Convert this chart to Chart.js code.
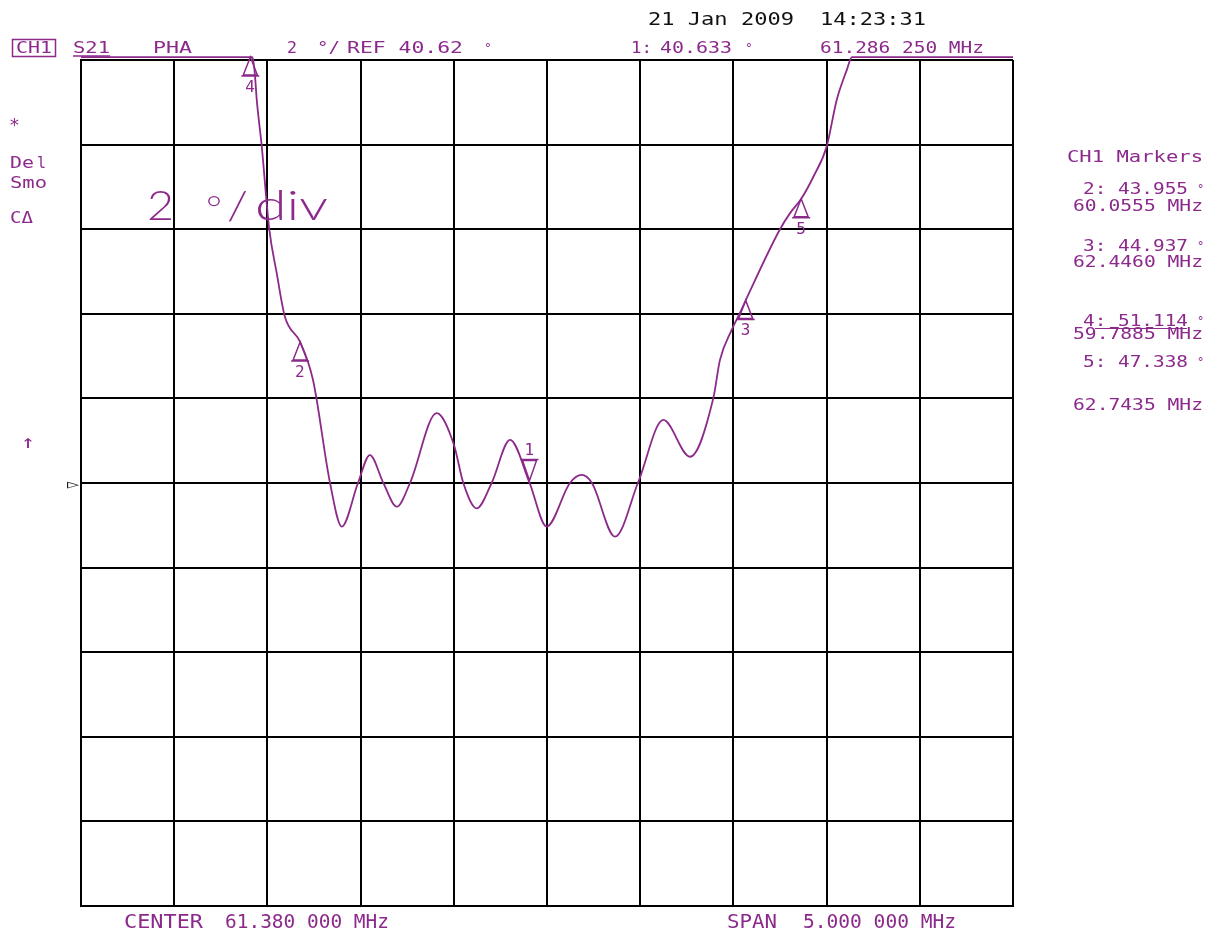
<!DOCTYPE html>
<html>
<head>
<meta charset="utf-8">
<script src="https://cdn.jsdelivr.net/npm/chart.js@4"></script>
<style>
  body { margin: 0; background: #fff; }
  canvas { display: block; }
</style>
</head>
<body>
<canvas id="vna" width="1224" height="940"></canvas>
<script>
// instrument settings (S21 phase, 2 deg/div)
const centerMHz = 61.38;
const spanMHz = 5.0;
const refDeg = 40.62;
const degPerDiv = 2;

// trace (MHz, degrees); 50.69 = clipped at top of screen
const traceMHz = [58.88, 59.80, 59.813, 59.823, 59.849, 59.890, 59.930, 59.974, 60.056, 60.125, 60.216,
  60.279, 60.366, 60.430, 60.502, 60.574, 60.645, 60.788, 60.881, 60.931, 61.003, 61.083, 61.182,
  61.286, 61.378, 61.503, 61.566, 61.621, 61.745, 61.870, 62.004, 62.147, 62.272, 62.308, 62.371,
  62.415, 62.446, 62.630, 62.684, 62.744, 62.809, 62.880, 62.934, 62.988, 63.016, 63.88];
const traceDeg = [50.69, 50.69, 50.27, 49.67, 48.61, 46.62, 45.58, 44.55, 43.95, 43.05, 40.62,
  39.59, 40.62, 41.28, 40.62, 40.06, 40.62, 42.27, 41.52, 40.62, 40.02, 40.62, 41.64,
  40.63, 39.59, 40.62, 40.81, 40.62, 39.35, 40.65, 42.11, 41.24, 42.62, 43.53, 44.24,
  44.64, 44.94, 46.62, 47.00, 47.34, 47.86, 48.57, 49.67, 50.38, 50.69, 50.69];

// markers
const markerNo = [1, 2, 3, 4, 5];
const markerMHz = [61.28625, 60.0555, 62.4460, 59.7885, 62.7435];
const markerDeg = [40.633, 43.955, 44.937, 51.114, 47.338];

const PURPLE = '#8c2a8c';
const MONO = "'DejaVu Sans Mono'";

// draw a string squeezed/stretched to a given width
function txt(ctx, s, x, y, w, size, color, font, weight) {
  ctx.save();
  ctx.font = (weight || 'normal') + ' ' + size + 'px ' + (font || MONO);
  ctx.fillStyle = color || PURPLE;
  ctx.textBaseline = 'alphabetic';
  const nat = ctx.measureText(s).width;
  ctx.translate(x, y);
  if (w) ctx.scale(w / nat, 1);
  ctx.fillText(s, 0, 0);
  ctx.restore();
}

const screenText = {
  id: 'screenText',
  afterDraw(chart) {
    const ctx = chart.ctx;
    const xs = chart.scales.x, ys = chart.scales.y;

    // header
    txt(ctx, '21 Jan 2009', 648, 25, 146, 17, '#111');
    txt(ctx, '14:23:31', 820, 25, 106, 17, '#111');
    ctx.save();
    ctx.strokeStyle = PURPLE; ctx.lineWidth = 1.5;
    ctx.strokeRect(12.5, 39.5, 43, 17);
    ctx.beginPath(); ctx.moveTo(73, 56); ctx.lineTo(110, 56); ctx.stroke();
    ctx.restore();
    txt(ctx, 'CH1', 16, 53, 36, 16);
    txt(ctx, 'S21', 73, 53, 37, 16);
    txt(ctx, 'PHA', 153, 53, 39, 16);
    txt(ctx, '2', 287, 53, 10, 16);
    txt(ctx, '°/', 317, 53, 23, 16);
    txt(ctx, 'REF 40.62', 347, 53, 116, 16);
    txt(ctx, '°', 484, 52, 0, 13);
    txt(ctx, '1:', 631, 53, 21, 16);
    txt(ctx, '40.633', 660, 53, 72, 16);
    txt(ctx, '°', 745, 52, 0, 13);
    txt(ctx, '61.286 250 MHz', 820, 53, 164, 16);

    // left annotations
    txt(ctx, '*', 9, 131, 0, 18);
    txt(ctx, 'De', 10, 168, 24, 16);
    txt(ctx, 'l', 37, 168, 9, 16);
    txt(ctx, 'Smo', 10, 188, 37, 16);
    txt(ctx, 'CΔ', 10, 223, 23, 16);
    txt(ctx, '↑', 21, 448, 14, 18);
    txt(ctx, '▷', 67, 488, 12, 11, '#111');

    // big scale label
    txt(ctx, '2', 147, 220, 27, 42, PURPLE, 'Lato', 300);
    txt(ctx, '°', 206, 220, 16, 34, PURPLE, 'Lato', 300);
    txt(ctx, '/', 227, 220, 21, 40, PURPLE, 'Lato', 300);
    txt(ctx, 'div', 255, 220, 73, 42, PURPLE, 'Lato', 300);

    // marker list on the right
    txt(ctx, 'CH1 Markers', 1067, 162, 136, 16);
    const rows = [[1, 194, 211], [2, 251, 267], [3, 326, 339], [4, 367, 410]];
    rows.forEach(([i, y1, y2]) => {
      txt(ctx, markerNo[i] + ': ' + markerDeg[i].toFixed(3), 1083, y1, 105, 16);
      txt(ctx, '°', 1197, y1 - 1, 0, 12);
      txt(ctx, markerMHz[i].toFixed(4) + ' MHz', 1073, y2, 130, 16);
    });
    ctx.save();
    ctx.strokeStyle = PURPLE; ctx.lineWidth = 1;
    ctx.beginPath(); ctx.moveTo(1095, 328.5); ctx.lineTo(1187, 328.5); ctx.stroke();
    ctx.restore();

    // footer
    txt(ctx, 'CENTER', 124, 928, 79, 19);
    txt(ctx, '61.380 000 MHz', 225, 928, 164, 19);
    txt(ctx, 'SPAN', 727, 928, 50, 19);
    txt(ctx, '5.000 000 MHz', 803, 928, 153, 19);

    // marker symbols on the trace
    ctx.save();
    ctx.strokeStyle = PURPLE; ctx.lineWidth = 1.5;
    markerNo.forEach((n, i) => {
      const px = xs.getPixelForValue(markerMHz[i]);
      const py = ys.getPixelForValue(Math.min(markerDeg[i], 50.69));
      ctx.beginPath();
      if (n === 1) {
        const tip = py - 2;
        ctx.moveTo(px, tip); ctx.lineTo(px - 7, tip - 20); ctx.lineTo(px + 7, tip - 20); ctx.closePath();
        ctx.moveTo(px - 9, tip - 21); ctx.lineTo(px + 9, tip - 21);
        ctx.stroke();
        txt(ctx, String(n), px - 5, tip - 25, 0, 16);
      } else {
        ctx.moveTo(px, py); ctx.lineTo(px - 7, py + 18); ctx.lineTo(px + 7, py + 18); ctx.closePath();
        ctx.moveTo(px - 9, py + 19); ctx.lineTo(px + 9, py + 19);
        ctx.stroke();
        txt(ctx, String(n), px - 5, py + 35, 0, 16);
      }
    });
    ctx.restore();
  }
};

const points = traceMHz.map((f, i) => ({ x: f, y: traceDeg[i] }));
const gridOpts = { color: '#000', lineWidth: 2, drawTicks: false };

new Chart(document.getElementById('vna').getContext('2d'), {
  type: 'line',
  data: {
    datasets: [{
      data: points,
      borderColor: PURPLE,
      borderWidth: 1.8,
      pointRadius: 0,
      cubicInterpolationMode: 'monotone',
      clip: 6
    }]
  },
  options: {
    responsive: false,
    animation: false,
    devicePixelRatio: 1,
    layout: { padding: { left: 81, right: 211, top: 60, bottom: 34 } },
    plugins: { legend: { display: false }, tooltip: { enabled: false } },
    scales: {
      x: {
        type: 'linear',
        min: centerMHz - spanMHz / 2,
        max: centerMHz + spanMHz / 2,
        ticks: { display: false, stepSize: spanMHz / 10 },
        grid: gridOpts,
        border: { color: '#000', width: 2 },
        afterFit: s => { s.height = 0; }
      },
      y: {
        min: refDeg - 5 * degPerDiv,
        max: refDeg + 5 * degPerDiv,
        ticks: { display: false, stepSize: degPerDiv },
        grid: gridOpts,
        border: { color: '#000', width: 2 },
        afterFit: s => { s.width = 0; }
      }
    }
  },
  plugins: [screenText]
});
</script>
</body>
</html>
